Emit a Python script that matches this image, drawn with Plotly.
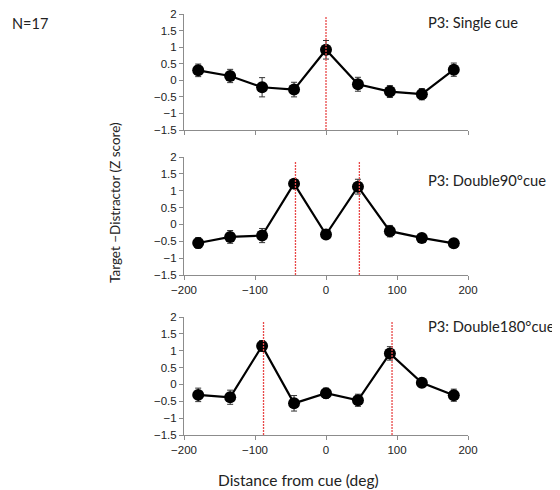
import plotly.graph_objects as go

distances = [-180, -135, -90, -45, 0, 45, 90, 135, 180]

single_vals = [0.30, 0.13, -0.21, -0.28, 0.92, -0.12, -0.34, -0.42, 0.32]
single_err = [0.19, 0.20, 0.29, 0.22, 0.28, 0.21, 0.18, 0.17, 0.20]

d90_vals = [-0.55, -0.37, -0.33, 1.21, -0.30, 1.12, -0.20, -0.40, -0.56]
d90_err = [0.16, 0.19, 0.21, 0.09, 0.08, 0.22, 0.17, 0.10, 0.13]

d180_vals = [-0.31, -0.38, 1.14, -0.56, -0.26, -0.47, 0.92, 0.05, -0.32]
d180_err = [0.20, 0.21, 0.16, 0.23, 0.15, 0.18, 0.20, 0.13, 0.18]

titles = ["P3: Single cue", "P3: Double90°cue", "P3: Double180°cue"]
cue_lines = [[0], [-43, 47], [-88, 93]]
cue_line_tops = [1.94, 1.85, 1.86]

x_ticks = [-200, -100, 0, 100, 200]
y_ticks = [-1.5, -1, -0.5, 0, 0.5, 1, 1.5, 2]
y_ticklabels = ["−1.5", "−1", "−0.5", "0", "0.5", "1", "1.5", "2"]
x_ticklabels = ["−200", "−100", "0", "100", "200"]

series = [(single_vals, single_err), (d90_vals, d90_err), (d180_vals, d180_err)]

W, H = 560, 490
OFF = 8  # page body margin offset


def px(x):
    return (x - OFF) / W


def py(y):
    return 1 - (y - OFF) / H


x_dom = [px(184), px(468)]
panel_px = [(14, 130), (157, 275), (317, 435)]
domains = [[py(b), py(t)] for t, b in panel_px]

fig = go.Figure()
tick_font = dict(family="Liberation Sans, Arial, sans-serif", size=11.5, color="#222")
axis_color = "#8c8c8c"

for i, ((vals, errs), dom) in enumerate(zip(series, domains)):
    n = "" if i == 0 else str(i + 1)
    xa, ya = "x" + n, "y" + n
    fig.add_trace(go.Scatter(
        x=distances, y=vals, mode="lines+markers",
        line=dict(color="black", width=2.2),
        marker=dict(color="black", size=12),
        error_y=dict(type="data", array=errs, visible=True,
                     color="#333", thickness=1, width=3),
        xaxis=xa, yaxis=ya, showlegend=False, cliponaxis=False))
    for cx in cue_lines[i]:
        fig.add_trace(go.Scatter(
            x=[cx, cx], y=[-1.5, cue_line_tops[i]], mode="lines",
            line=dict(color="#e84848", width=1.3, dash="2px,1px"),
            xaxis=xa, yaxis=ya, showlegend=False, hoverinfo="skip"))
    fig.layout["xaxis" + n] = dict(
        domain=x_dom, range=[-200, 200], anchor=ya,
        tickvals=x_ticks, ticktext=x_ticklabels, showticklabels=(i != 0),
        ticks="outside", ticklen=4, tickcolor=axis_color, automargin=False,
        showline=True, linecolor=axis_color, linewidth=1,
        showgrid=False, zeroline=False, tickfont=tick_font, fixedrange=True)
    fig.layout["yaxis" + n] = dict(
        domain=dom, range=[-1.5, 2], anchor=xa,
        tickvals=y_ticks, ticktext=y_ticklabels, automargin=False,
        ticks="outside", ticklen=4, tickcolor=axis_color,
        showline=True, linecolor=axis_color, linewidth=1,
        showgrid=False, zeroline=False, tickfont=tick_font, fixedrange=True)

fam = "Lato, Open Sans, sans-serif"
title_font = dict(family=fam, size=14.7, color="#222")
title_y = [22, 180, 326]
for t, ty in zip(titles, title_y):
    fig.add_annotation(text=t, x=px(426), y=py(ty), xref="paper", yref="paper",
                       xanchor="left", yanchor="middle", showarrow=False, font=title_font)

fig.add_annotation(text="N=17", x=px(10), y=py(24), xref="paper", yref="paper",
                   xanchor="left", yanchor="middle", showarrow=False,
                   font=dict(family=fam, size=14.5, color="#222"))
fig.add_annotation(text="Target −Distractor (Z score)", x=px(115), y=py(203),
                   xref="paper", yref="paper", textangle=-90, xanchor="center",
                   yanchor="middle", showarrow=False,
                   font=dict(family=fam, size=13.5, color="#222"))
fig.add_annotation(text="Distance from cue (deg)", x=px(298), y=py(480),
                   xref="paper", yref="paper", xanchor="center", yanchor="middle",
                   showarrow=False, font=dict(family=fam, size=15.5, color="#222"))

fig.update_layout(width=W, height=H, margin=dict(l=0, r=0, t=0, b=0, autoexpand=False),
                  paper_bgcolor="white", plot_bgcolor="white")

fig.write_html("out.html")
